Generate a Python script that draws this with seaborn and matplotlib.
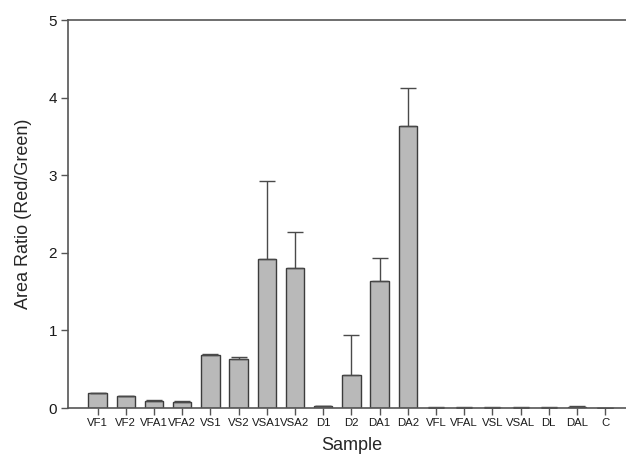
#!/usr/bin/env python3

# Area ratio (red/green) per sample, bar chart with upper error bars

import matplotlib
matplotlib.use("Agg")
import matplotlib.pyplot as plt
import seaborn as sns
import pandas as pd
import numpy as np

samples = ["VF1", "VF2", "VFA1", "VFA2", "VS1", "VS2", "VSA1", "VSA2", "D1", "D2",
           "DA1", "DA2", "VFL", "VFAL", "VSL", "VSAL", "DL", "DAL", "C"]
ratio = [0.19, 0.16, 0.09, 0.08, 0.69, 0.63, 1.92, 1.80, 0.02, 0.42,
         1.64, 3.63, 0.005, 0.005, 0.005, 0.005, 0.005, 0.01, 0.0]
err = [0.01, 0.0, 0.01, 0.01, 0.005, 0.03, 1.01, 0.47, 0.005, 0.52,
       0.29, 0.50, 0.002, 0.002, 0.002, 0.002, 0.002, 0.01, 0.0]
yticks = [0, 1, 2, 3, 4, 5]

sns.set_style("ticks")
plt.rcParams["font.family"] = ["Liberation Sans", "DejaVu Sans"]
plt.rcParams["text.color"] = "#1a1a1a"
plt.rcParams["xtick.labelcolor"] = "#1a1a1a"
plt.rcParams["ytick.labelcolor"] = "#1a1a1a"

df = pd.DataFrame({"Sample": samples, "Ratio": ratio, "Err": err})

fig = plt.figure(figsize=(6.26, 4.69), dpi=100)
ax = fig.add_axes([0.109, 0.130, 0.905, 0.827])
sns.barplot(data=df, x="Sample", y="Ratio", color="#b9b9b9", edgecolor="#3c3c3c",
            linewidth=1.0, width=0.65, saturation=1, ax=ax)
ax.errorbar(np.arange(len(samples)), df["Ratio"], yerr=[np.zeros(len(err)), df["Err"]],
            fmt="none", ecolor="#4a4a4a", elinewidth=1.0, capsize=6, capthick=1.0)

ax.set_xlim(-1.04, 19.05)
ax.set_ylim(0, 5)
ax.set_yticks(yticks)
ax.set_yticklabels([str(t) for t in yticks], fontsize=11)
ax.tick_params(axis="x", labelsize=8.2, length=5, width=1, color="#555555", pad=2)
ax.tick_params(axis="y", length=5, width=1, color="#555555", pad=3)
for s in ["left", "bottom", "top"]:
    ax.spines[s].set_color("#555555")
    ax.spines[s].set_linewidth(1.2)
ax.spines["right"].set_visible(False)
ax.set_xlabel("Sample", fontsize=13, labelpad=7)
ax.set_ylabel("Area Ratio (Red/Green)", fontsize=13, labelpad=12)

plt.savefig("out.png", dpi=100)
